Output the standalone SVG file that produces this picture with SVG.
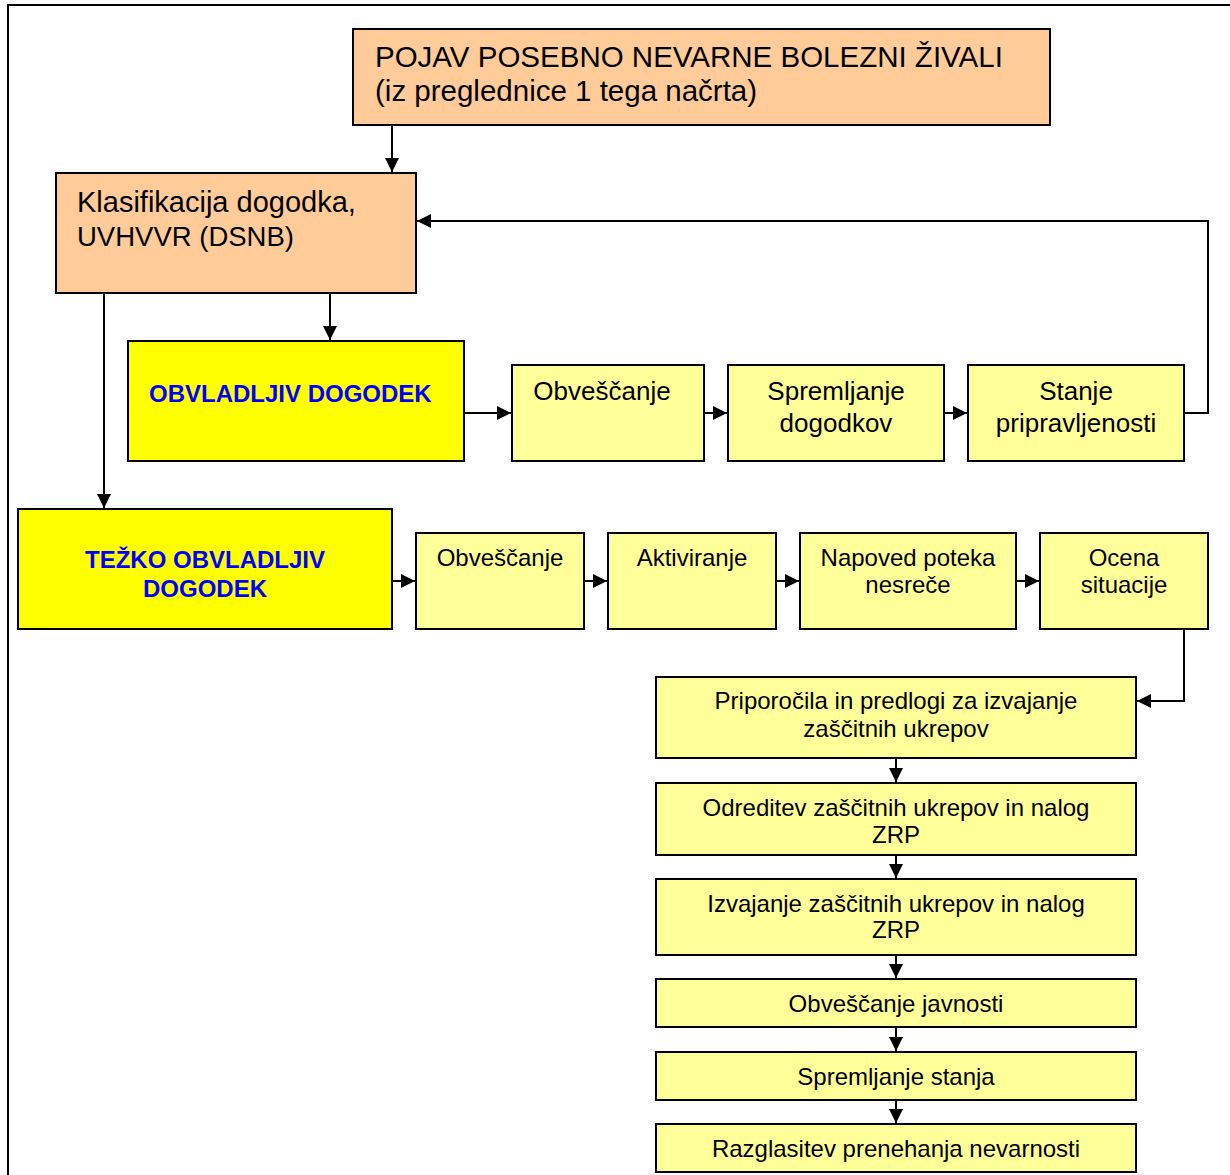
<svg xmlns="http://www.w3.org/2000/svg" width="1230" height="1175" viewBox="0 0 1230 1175">
<defs>
<marker id="ah" viewBox="0 0 14 14" refX="14" refY="7" markerWidth="14" markerHeight="14" markerUnits="userSpaceOnUse" orient="auto">
<path d="M0,0 L14,7 L0,14 Z" fill="#000"/>
</marker>
</defs>
<style>
.orange{fill:#FFCC99;stroke:#000;stroke-width:2}
.yel{fill:#FFFF00;stroke:#000;stroke-width:2}
.ly{fill:#FFFF99;stroke:#000;stroke-width:2}
text{font-family:"Liberation Sans",Arial,sans-serif;fill:#000}
.big{font-size:29px}
.mid{font-size:26px;text-anchor:middle}
.sm{font-size:24px;text-anchor:middle}
.bold{font-size:24px;font-weight:bold;fill:#0000FF}
.conn path{fill:none;stroke:#000;stroke-width:2;marker-end:url(#ah)}
</style>
<rect width="1230" height="1175" fill="#fff"/>
<path d="M8,1175 V5 H1230" fill="none" stroke="#000" stroke-width="2"/>

<g id="pojav">
<rect class="orange" x="353" y="29" width="697" height="96"/>
<text class="big" x="375" y="67" style="font-size:29.5px">POJAV POSEBNO NEVARNE BOLEZNI ŽIVALI</text>
<text class="big" x="375" y="101" style="font-size:29.5px">(iz preglednice 1 tega načrta)</text>
</g>
<g id="klasifikacija">
<rect class="orange" x="56" y="173" width="360" height="120"/>
<text class="big" x="77" y="212">Klasifikacija dogodka,</text>
<text x="77" y="246" style="font-size:27.5px">UVHVVR (DSNB)</text>
</g>
<g id="obvladljiv">
<rect class="yel" x="128" y="341" width="336" height="120"/>
<text class="bold" x="149" y="402">OBVLADLJIV DOGODEK</text>
</g>
<g id="obvescanje1">
<rect class="ly" x="512" y="365" width="192" height="96"/>
<text class="mid" x="602" y="400">Obveščanje</text>
</g>
<g id="spremljanje1">
<rect class="ly" x="728" y="365" width="216" height="96"/>
<text class="mid" x="836" y="400">Spremljanje</text>
<text class="mid" x="836" y="432">dogodkov</text>
</g>
<g id="stanje">
<rect class="ly" x="968" y="365" width="216" height="96"/>
<text class="mid" x="1076" y="400">Stanje</text>
<text class="mid" x="1076" y="432">pripravljenosti</text>
</g>
<g id="tezko">
<rect class="yel" x="18" y="509" width="374" height="120"/>
<text class="bold" x="205" y="568" text-anchor="middle">TEŽKO OBVLADLJIV</text>
<text class="bold" x="205" y="597" text-anchor="middle">DOGODEK</text>
</g>
<g id="obvescanje2">
<rect class="ly" x="416" y="533" width="168" height="96"/>
<text class="sm" x="500" y="566">Obveščanje</text>
</g>
<g id="aktiviranje">
<rect class="ly" x="608" y="533" width="168" height="96"/>
<text class="sm" x="692" y="566">Aktiviranje</text>
</g>
<g id="napoved">
<rect class="ly" x="800" y="533" width="216" height="96"/>
<text class="sm" x="908" y="566">Napoved poteka</text>
<text class="sm" x="908" y="593">nesreče</text>
</g>
<g id="ocena">
<rect class="ly" x="1040" y="533" width="168" height="96"/>
<text class="sm" x="1124" y="566">Ocena</text>
<text class="sm" x="1124" y="593">situacije</text>
</g>
<g id="priporocila">
<rect class="ly" x="656" y="677" width="480" height="81"/>
<text class="sm" x="896" y="709">Priporočila in predlogi za izvajanje</text>
<text class="sm" x="896" y="737">zaščitnih ukrepov</text>
</g>
<g id="odreditev">
<rect class="ly" x="656" y="783" width="480" height="72"/>
<text class="sm" x="896" y="816">Odreditev zaščitnih ukrepov in nalog</text>
<text class="sm" x="896" y="843">ZRP</text>
</g>
<g id="izvajanje">
<rect class="ly" x="656" y="879" width="480" height="76"/>
<text class="sm" x="896" y="912">Izvajanje zaščitnih ukrepov in nalog</text>
<text class="sm" x="896" y="938">ZRP</text>
</g>
<g id="obvescanje-javnosti">
<rect class="ly" x="656" y="979" width="480" height="48"/>
<text class="sm" x="896" y="1012">Obveščanje javnosti</text>
</g>
<g id="spremljanje-stanja">
<rect class="ly" x="656" y="1052" width="480" height="48"/>
<text class="sm" x="896" y="1085">Spremljanje stanja</text>
</g>
<g id="razglasitev">
<rect class="ly" x="656" y="1124" width="480" height="48"/>
<text class="sm" x="896" y="1157">Razglasitev prenehanja nevarnosti</text>
</g>

<g id="connectors" class="conn">
<path d="M392,125 V172"/>
<path d="M330,293 V340"/>
<path d="M104,293 V508"/>
<path d="M464,413 H511"/>
<path d="M704,413 H727"/>
<path d="M944,413 H967"/>
<path d="M1184,413 H1208 V221 H417"/>
<path d="M392,581 H415"/>
<path d="M584,581 H607"/>
<path d="M776,581 H799"/>
<path d="M1016,581 H1039"/>
<path d="M1184,629 V701 H1137"/>
<path d="M896,758 V782"/>
<path d="M896,855 V878"/>
<path d="M896,955 V978"/>
<path d="M896,1027 V1051"/>
<path d="M896,1100 V1123"/>
</g>
</svg>
